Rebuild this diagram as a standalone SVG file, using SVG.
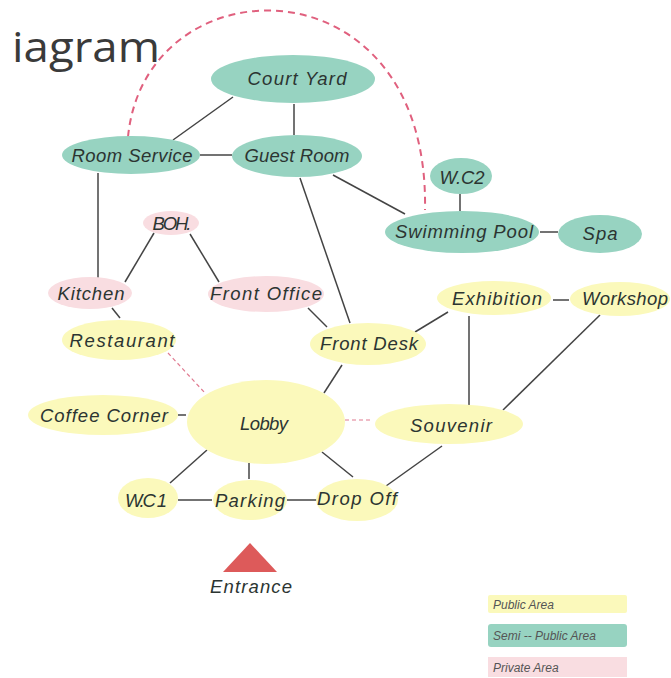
<svg xmlns="http://www.w3.org/2000/svg" width="671" height="678" viewBox="0 0 671 678">
<style>
.semi{fill:#97d3c1}
.pub{fill:#fbf9bb}
.priv{fill:#f9dde1}
.lbl{font-family:"Liberation Sans",Arial,sans-serif;font-style:italic;font-size:18.5px;fill:#2c3532;text-anchor:middle}
.leg{font-family:"Liberation Sans",Arial,sans-serif;font-style:italic;font-size:12px;fill:#555}
.ln{stroke:#444;stroke-width:1.5;fill:none}
.dash{stroke:#e0607e;stroke-width:2;stroke-dasharray:7 5;fill:none}
.dash2{stroke:#e07a90;stroke-width:1.2;stroke-dasharray:4 3;fill:none}
</style>
<rect width="671" height="678" fill="#ffffff"/>
<text x="12" y="62" font-family="Open Sans, sans-serif" font-size="42" fill="#3a3a3a" textLength="148" lengthAdjust="spacingAndGlyphs">iagram</text>

<g id="connectors">
<path class="dash" d="M128,137 C145,-40 430,-45 425,210"/>
<line class="dash2" x1="168" y1="353" x2="205" y2="393"/>
<line class="dash2" x1="345" y1="420" x2="373" y2="420"/>
<line class="ln" x1="233" y1="97" x2="173" y2="140"/>
<line class="ln" x1="294" y1="104" x2="294" y2="135"/>
<line class="ln" x1="200" y1="155" x2="232" y2="155"/>
<line class="ln" x1="98" y1="173" x2="98" y2="278"/>
<line class="ln" x1="333" y1="175" x2="405" y2="214"/>
<line class="ln" x1="300" y1="178" x2="350" y2="323"/>
<line class="ln" x1="460" y1="194" x2="460" y2="211"/>
<line class="ln" x1="540" y1="232" x2="558" y2="232"/>
<line class="ln" x1="154" y1="233" x2="125" y2="282"/>
<line class="ln" x1="190" y1="234" x2="219" y2="282"/>
<line class="ln" x1="112" y1="308" x2="120" y2="318"/>
<line class="ln" x1="308" y1="308" x2="327" y2="327"/>
<line class="ln" x1="415" y1="332" x2="448" y2="312"/>
<line class="ln" x1="553" y1="300" x2="569" y2="300"/>
<line class="ln" x1="469" y1="316" x2="469" y2="405"/>
<line class="ln" x1="600" y1="315" x2="503" y2="410"/>
<line class="ln" x1="342" y1="365" x2="324" y2="393"/>
<line class="ln" x1="178" y1="415" x2="186" y2="415"/>
<line class="ln" x1="207" y1="450" x2="170" y2="483"/>
<line class="ln" x1="249" y1="463" x2="249" y2="479"/>
<line class="ln" x1="322" y1="452" x2="353" y2="477"/>
<line class="ln" x1="178" y1="500" x2="212" y2="500"/>
<line class="ln" x1="287" y1="500" x2="317" y2="500"/>
<line class="ln" x1="442" y1="446" x2="386" y2="486"/>
</g>

<g id="court-yard"><ellipse class="semi" cx="293" cy="79" rx="82" ry="24"/><text class="lbl" x="297" y="85" textLength="99">Court Yard</text></g>
<g id="room-service"><ellipse class="semi" cx="131" cy="155" rx="69" ry="19"/><text class="lbl" x="132" y="162" textLength="121">Room Service</text></g>
<g id="guest-room"><ellipse class="semi" cx="297" cy="156" rx="65" ry="21"/><text class="lbl" x="297" y="162" textLength="105">Guest Room</text></g>
<g id="wc2"><ellipse class="semi" cx="461" cy="176" rx="31" ry="18"/><text class="lbl" x="462" y="184" textLength="45">W.C2</text></g>
<g id="swimming-pool"><ellipse class="semi" cx="462" cy="232" rx="77" ry="21"/><text class="lbl" x="464" y="238" textLength="138">Swimming Pool</text></g>
<g id="spa"><ellipse class="semi" cx="600" cy="234" rx="42" ry="19"/><text class="lbl" x="600" y="240" textLength="35">Spa</text></g>
<g id="boh"><ellipse class="priv" cx="171" cy="223" rx="28" ry="12"/><text class="lbl" x="172" y="230" textLength="39">BOH.</text></g>
<g id="kitchen"><ellipse class="priv" cx="90" cy="293" rx="42" ry="16"/><text class="lbl" x="91" y="300" textLength="67">Kitchen</text></g>
<g id="front-office"><ellipse class="priv" cx="266" cy="294" rx="58" ry="18"/><text class="lbl" x="266" y="300" textLength="112">Front Office</text></g>
<g id="restaurant"><ellipse class="pub" cx="119" cy="340" rx="57" ry="20"/><text class="lbl" x="122" y="347" textLength="105">Restaurant</text></g>
<g id="front-desk"><ellipse class="pub" cx="368" cy="344" rx="58" ry="21"/><text class="lbl" x="369" y="350" textLength="98">Front Desk</text></g>
<g id="exhibition"><ellipse class="pub" cx="494" cy="298" rx="57" ry="17"/><text class="lbl" x="497" y="305" textLength="90">Exhibition</text></g>
<g id="workshop"><ellipse class="pub" cx="620" cy="299" rx="50" ry="17"/><text class="lbl" x="625" y="305" textLength="86">Workshop</text></g>
<g id="coffee-corner"><ellipse class="pub" cx="103" cy="415" rx="75" ry="20"/><text class="lbl" x="104" y="422" textLength="128">Coffee Corner</text></g>
<g id="lobby"><ellipse class="pub" cx="266" cy="422" rx="79" ry="42"/><text class="lbl" x="264" y="430" textLength="48">Lobby</text></g>
<g id="souvenir"><ellipse class="pub" cx="449" cy="424" rx="74" ry="20"/><text class="lbl" x="451" y="432" textLength="82">Souvenir</text></g>
<g id="wc1"><ellipse class="pub" cx="148" cy="498" rx="30" ry="20"/><text class="lbl" x="146" y="507" textLength="42">W.C 1</text></g>
<g id="parking"><ellipse class="pub" cx="250" cy="500" rx="37" ry="20"/><text class="lbl" x="250" y="507" textLength="70">Parking</text></g>
<g id="drop-off"><ellipse class="pub" cx="357" cy="500" rx="41" ry="21"/><text class="lbl" x="357" y="505" textLength="80">Drop Off</text></g>
<g id="entrance"><polygon points="250,543 277,572 223,572" fill="#dd5a5a"/><text class="lbl" x="251" y="593" textLength="82">Entrance</text></g>

<g id="legend">
<rect class="pub" x="488" y="595" width="139" height="18" rx="2"/>
<text class="leg" x="493" y="609">Public Area</text>
<rect class="semi" x="488" y="624" width="139" height="23" rx="3"/>
<text class="leg" x="493" y="640">Semi -- Public Area</text>
<rect class="priv" x="488" y="657" width="139" height="20"/>
<text class="leg" x="493" y="672">Private Area</text>
</g>
</svg>
